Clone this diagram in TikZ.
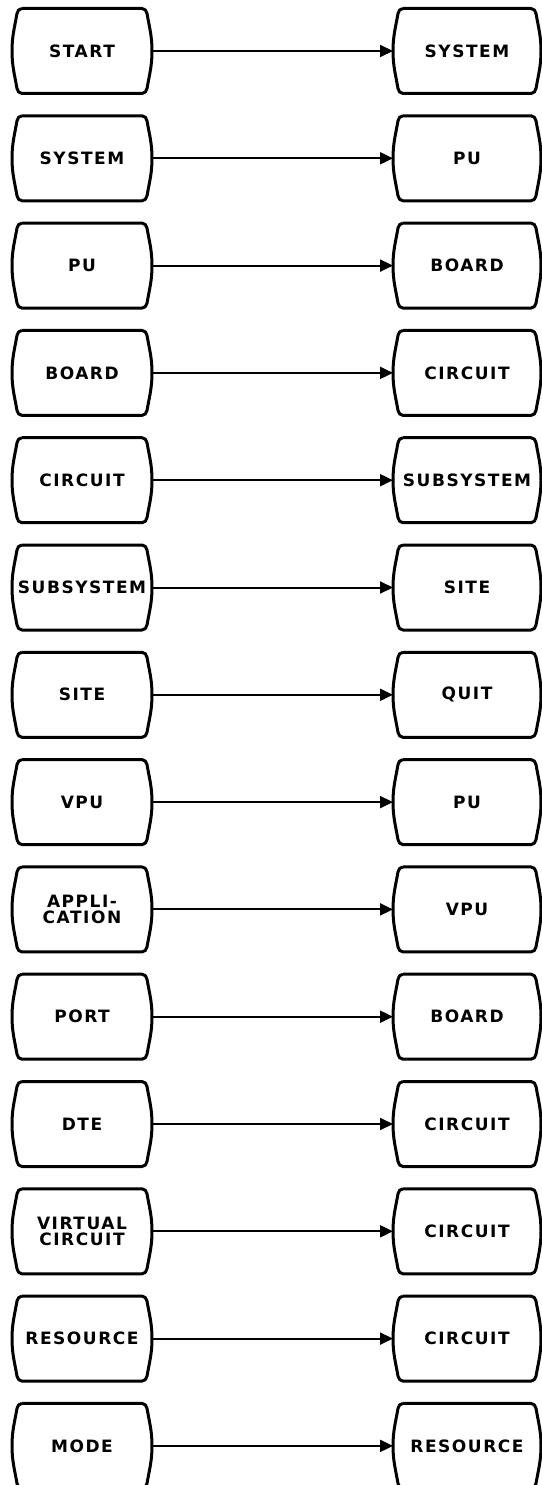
\documentclass[tikz,border=0pt]{standalone}
\usepackage{fontspec}
\newfontfamily\boxfont[LetterSpace=9]{DejaVu Sans}
\usetikzlibrary{arrows.meta}
% barrel shaped outline round a named node
\newcommand\barrel[1]{%
  \draw[line width=3pt,line join=round]
    ([xshift=10pt]#1.north west) -- ([xshift=-10pt]#1.north east)
    to[out=0,in=100] ([xshift=-5pt,yshift=-5pt]#1.north east)
    to[out=-80,in=90] (#1.east)
    to[out=-90,in=80] ([xshift=-5pt,yshift=5pt]#1.south east)
    to[out=-100,in=0] ([xshift=-10pt]#1.south east)
    -- ([xshift=10pt]#1.south west)
    to[out=180,in=-80] ([xshift=5pt,yshift=5pt]#1.south west)
    to[out=100,in=-90] (#1.west)
    to[out=90,in=-100] ([xshift=5pt,yshift=-5pt]#1.north west)
    to[out=80,in=180] ([xshift=10pt]#1.north west);}

\begin{document}
\begin{tikzpicture}[x=1pt,y=1pt,>={Triangle[length=13pt,width=12pt]},
  b/.style={minimum height=85pt,inner sep=0pt,outer sep=0pt,align=center,
    font=\boxfont\bfseries\fontsize{17}{16}\selectfont},
  lb/.style={b,minimum width=140pt},
  rb/.style={b,minimum width=148pt}]
\useasboundingbox[fill=white] (0,0) rectangle (541,-1485);
\foreach \a/\c [count=\i] in {START/SYSTEM,SYSTEM/PU,PU/BOARD,BOARD/CIRCUIT,
    CIRCUIT/SUBSYSTEM,SUBSYSTEM/SITE,SITE/QUIT,VPU/PU,{APPLI-\\CATION}/VPU,
    PORT/BOARD,DTE/CIRCUIT,{VIRTUAL\\CIRCUIT}/CIRCUIT,RESOURCE/CIRCUIT,
    MODE/RESOURCE}{
  \node[lb] (l\i) at (82,{-51-(\i-1)*107.3}) {\a};
  \node[rb] (r\i) at (467,{-51-(\i-1)*107.3}) {\c};
  \barrel{l\i} \barrel{r\i}
  \draw[->,line width=2pt] (l\i.east) -- (r\i.west);
}
\end{tikzpicture}
\end{document}
